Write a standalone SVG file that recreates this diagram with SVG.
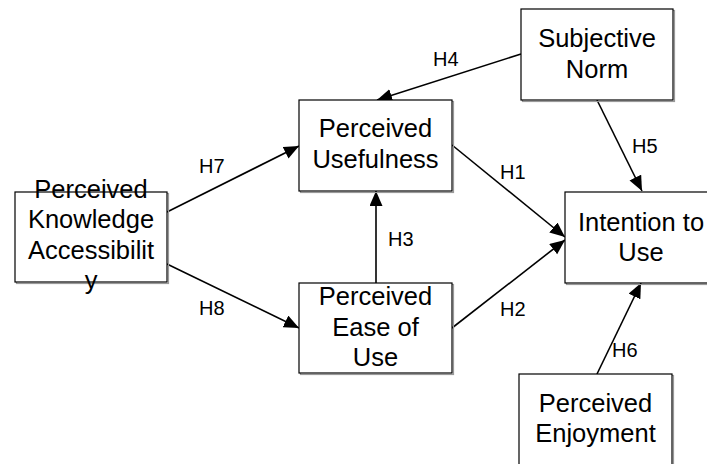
<svg xmlns="http://www.w3.org/2000/svg" width="707" height="464" viewBox="0 0 707 464">
<style>
.box{fill:#fff;stroke:#000;stroke-width:1.2}
.shadow{fill:none;stroke:#999;stroke-width:1.2}
.t{font-family:"Liberation Sans",Arial,sans-serif;font-size:25.5px;fill:#000;text-anchor:middle}
.l{font-family:"Liberation Sans",Arial,sans-serif;font-size:20px;fill:#000}
.c{stroke:#000;stroke-width:1.6;fill:none;marker-end:url(#ah)}
</style>
<defs>
<marker id="ah" markerUnits="userSpaceOnUse" markerWidth="16" markerHeight="14" refX="15" refY="6.5" orient="auto">
<path d="M0,0 L15,6.5 L0,13 Z" fill="#000"/>
</marker>
</defs>
<rect width="707" height="464" fill="#fff"/>
<g id="connectors">
<line class="c" x1="167" y1="212" x2="299" y2="146"/>
<line class="c" x1="167" y1="264" x2="299" y2="328"/>
<line class="c" x1="521" y1="54" x2="377" y2="100"/>
<line class="c" x1="597" y1="100" x2="642" y2="191"/>
<line class="c" x1="452" y1="145" x2="565" y2="237"/>
<line class="c" x1="452" y1="328" x2="565" y2="240"/>
<line class="c" x1="376" y1="283" x2="376" y2="191"/>
<line class="c" x1="597" y1="374" x2="641" y2="283"/>
<text class="l" x="199" y="173">H7</text>
<text class="l" x="199" y="315">H8</text>
<text class="l" x="433" y="66">H4</text>
<text class="l" x="632" y="153">H5</text>
<text class="l" x="500" y="179">H1</text>
<text class="l" x="500" y="316">H2</text>
<text class="l" x="388" y="246">H3</text>
<text class="l" x="612" y="357">H6</text>
</g>
<g id="pka">
<rect class="shadow" x="16.5" y="193.5" width="152" height="90"/>
<rect class="box" x="15" y="192" width="152" height="90"/>
<text class="t" x="91" y="197.5">Perceived</text>
<text class="t" x="91" y="228">Knowledge</text>
<text class="t" x="91" y="258.5">Accessibilit</text>
<text class="t" x="91" y="289">y</text>
</g>
<g id="pu">
<rect class="shadow" x="300.5" y="101.5" width="153" height="91"/>
<rect class="box" x="299" y="100" width="153" height="91"/>
<text class="t" x="375.5" y="137">Perceived</text>
<text class="t" x="375.5" y="168">Usefulness</text>
</g>
<g id="sn">
<rect class="shadow" x="522.5" y="10.5" width="152" height="91"/>
<rect class="box" x="521" y="9" width="152" height="91"/>
<text class="t" x="597" y="47">Subjective</text>
<text class="t" x="597" y="77.5">Norm</text>
</g>
<g id="peou">
<rect class="shadow" x="300.5" y="284.5" width="153" height="90"/>
<rect class="box" x="299" y="283" width="153" height="90"/>
<text class="t" x="375.5" y="305">Perceived</text>
<text class="t" x="375.5" y="335.5">Ease of</text>
<text class="t" x="375.5" y="366">Use</text>
</g>
<g id="iu">
<rect class="shadow" x="566.5" y="193.5" width="152" height="91"/>
<rect class="box" x="565" y="192" width="152" height="91"/>
<text class="t" x="641" y="230.5">Intention to</text>
<text class="t" x="641" y="261">Use</text>
</g>
<g id="pe">
<rect class="shadow" x="520.5" y="375.5" width="153" height="91"/>
<rect class="box" x="519" y="374" width="153" height="91"/>
<text class="t" x="595.5" y="412">Perceived</text>
<text class="t" x="595.5" y="442">Enjoyment</text>
</g>
</svg>
